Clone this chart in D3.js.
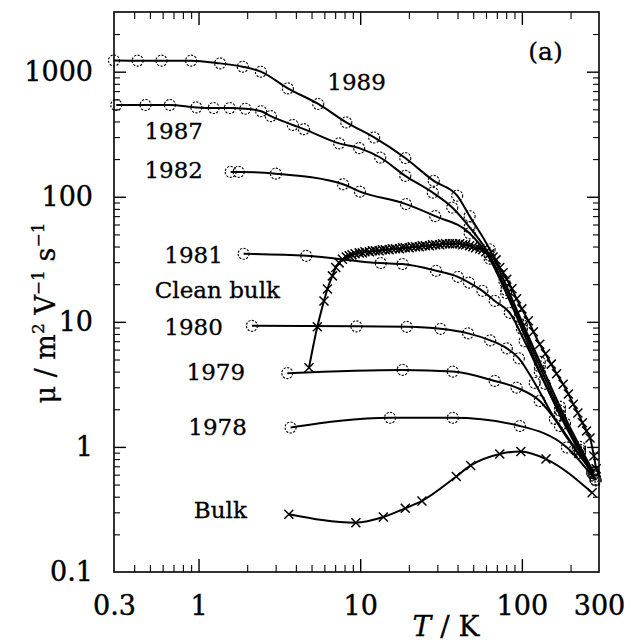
<!DOCTYPE html>
<html><head><meta charset="utf-8">
<script src="https://cdn.jsdelivr.net/npm/d3@7"></script>
<style>body{margin:0;background:#fff}svg{display:block}</style>
</head><body>
<script>
// ---------- data ----------
const xTickValues = [0.3, 1, 10, 100, 300];
const yTickValues = [0.1, 1, 10, 100, 1000];

const T1989  = [0.3, 0.42, 0.59, 0.9, 1.36, 1.88, 2.43, 3.57, 5.5, 8.2, 12.2, 19.0, 28.5, 39.8, 47.5, 63.2, 78, 97, 129, 172, 229, 280];
const mu1989 = [1230, 1225, 1225, 1225, 1165, 1096, 1000, 735, 552, 393, 298, 204, 134, 102, 70, 38, 21, 11, 4.8, 2.1, 1.0, 0.62];

const T1987  = [0.31, 0.47, 0.665, 0.97, 1.24, 1.56, 1.95, 2.44, 2.80, 3.83, 4.49, 7.41, 9.86, 13.3, 19.0, 28.1, 37.1, 47.5, 63.2, 80, 100, 129, 172, 229, 283];
const mu1987 = [542, 542, 542, 518, 512, 512, 506, 483, 441, 375, 347, 267, 245, 206, 147, 108, 82, 57, 34, 18, 9.5, 4.4, 1.95, 0.95, 0.58];

const T1982  = [1.58, 1.77, 3.01, 7.84, 9.96, 19.2, 29.1, 47.5, 63.2, 80, 100, 129, 172, 229, 285];
const mu1982 = [158, 158, 153, 126, 110, 87.4, 70, 51, 32, 17, 8.8, 4.0, 1.8, 0.9, 0.55];

const T1981  = [1.90, 4.64, 13.4, 18.3, 29.5, 40.2, 47.1, 57.0, 67.9, 84.2, 104, 139, 185, 229, 276];
const mu1981 = [35.0, 33.7, 29.5, 29.0, 25.6, 22.9, 20.6, 17.7, 14.7, 11.8, 7.0, 3.2, 1.55, 0.92, 0.6];

const TClean  = [4.82, 5.43, 5.97, 6.27, 6.73, 7.06, 7.41, 7.76, 8.2, 8.55, 8.9, 9.3, 9.86, 10.3, 10.7, 11.4, 11.9, 12.4, 13.1, 13.7, 14.3, 15.1, 15.8, 16.5, 17.5, 18.3, 19.0, 20.1, 21.0, 22.0, 23.2, 24.2, 25.3, 26.8, 28.0, 29.3, 31.0, 32.3, 33.8, 35.7, 37.3, 38.9, 41.2, 43.1, 44.9, 47.5, 49.7, 51.8, 54.8, 57.2, 59.8, 63.2, 66.3, 69.2, 73.0, 76.5, 80.6, 86.8, 92.7, 100, 109.6, 118, 129, 140, 152, 164, 180, 194, 208, 222, 237, 251, 264, 279, 288];
const muClean = [4.29, 9.12, 14.7, 18.3, 23.3, 27.2, 29.6, 31.7, 33.0, 33.7, 34.3, 35.0, 35.6, 35.6, 36.3, 36.3, 37.0, 37.0, 37.0, 37.7, 37.7, 37.7, 38.4, 38.4, 38.4, 39.1, 39.1, 39.1, 39.8, 39.8, 39.8, 40.6, 40.6, 40.6, 41.3, 41.3, 41.3, 42.1, 42.1, 42.1, 42.1, 42.1, 42.1, 41.3, 41.3, 40.6, 39.8, 39.1, 38.4, 37.7, 36.3, 35.0, 33.0, 31.3, 27.2, 24.7, 21.9, 18.4, 15.3, 12.7, 10.2, 8.32, 6.63, 5.55, 4.59, 3.84, 3.17, 2.65, 2.19, 1.87, 1.56, 1.34, 1.18, 0.847, 0.67];

const T1980  = [2.14, 9.48, 19.4, 31.4, 46.5, 63.7, 80.7, 95.8, 120, 160, 213, 272];
const mu1980 = [9.29, 9.2, 9.12, 8.79, 8.09, 7.11, 6.14, 5.11, 3.25, 1.67, 0.96, 0.64];

const T1979  = [3.54, 18.3, 37.4, 67.9, 92.7, 129, 172, 223, 272];
const mu1979 = [3.89, 4.13, 4.0, 3.37, 2.98, 2.33, 1.47, 0.895, 0.62];

const T1978  = [3.71, 15.3, 37.4, 97.2, 190, 286];
const mu1978 = [1.43, 1.71, 1.71, 1.47, 0.99, 0.54];

const TBulk  = [3.62, 9.4, 13.9, 19.0, 24.1, 39.3, 48.2, 73.0, 98.6, 141, 272];
const muBulk = [0.29, 0.248, 0.275, 0.323, 0.37, 0.58, 0.711, 0.879, 0.92, 0.80, 0.43];

const seriesNames   = ["1989", "1987", "1982", "1981", "Clean bulk", "1980", "1979", "1978", "Bulk"];
const seriesT       = [T1989, T1987, T1982, T1981, TClean, T1980, T1979, T1978, TBulk];
const seriesMu      = [mu1989, mu1987, mu1982, mu1981, muClean, mu1980, mu1979, mu1978, muBulk];
const seriesMarkers = ["circle", "circle", "circle", "circle", "cross", "circle", "circle", "circle", "cross"];

// label anchor points (T, mu) for the text annotations
const labelT  = [14.4, 1.065, 1.065, 1.415, 3.19, 1.415, 1.94, 1.99, 1.99];
const labelMu = [708, 288, 140, 29.4, 15.4, 7.8, 3.41, 1.24, 0.269];

// ---------- drawing ----------
const W = 634, H = 644;
const svg = d3.select("body").append("svg").attr("width", W).attr("height", H);
const L = 114, R = 599, TOP = 12, B = 572;

const x = d3.scaleLog().domain([0.3, 300]).range([L, R]);
const y = d3.scaleLog().domain([0.1, 3000]).range([B, TOP]);

const serif = "'DejaVu Serif', 'Liberation Serif', serif";

function minors(lo, hi) {
  const out = [];
  for (let e = -2; e <= 4; e++) for (let m = 2; m <= 9; m++) {
    const v = m * Math.pow(10, e);
    if (v > lo * 1.0001 && v < hi * 0.9999) out.push(v);
  }
  return out;
}
const xMajor = [1, 10, 100];
const xMinor = minors(0.3, 300).filter(v => !xMajor.includes(v) && v !== 300);
const yMajor = [1, 10, 100, 1000];
const yMinor = minors(0.1, 3000).filter(v => !yMajor.includes(v));

function styleAxis(g, sw) {
  g.select(".domain").remove();
  g.selectAll(".tick line").attr("stroke", "#000").attr("stroke-width", sw);
}
// bottom / top
svg.append("g").attr("transform", `translate(0,${B})`)
  .call(d3.axisBottom(x).tickValues(xMajor).tickSize(-13).tickFormat(""))
  .call(g => styleAxis(g, 1.4));
svg.append("g").attr("transform", `translate(0,${B})`)
  .call(d3.axisBottom(x).tickValues(xMinor).tickSize(-7).tickFormat(""))
  .call(g => styleAxis(g, 1.1));
svg.append("g").attr("transform", `translate(0,${TOP})`)
  .call(d3.axisTop(x).tickValues(xMajor).tickSize(-13).tickFormat(""))
  .call(g => styleAxis(g, 1.4));
svg.append("g").attr("transform", `translate(0,${TOP})`)
  .call(d3.axisTop(x).tickValues(xMinor).tickSize(-7).tickFormat(""))
  .call(g => styleAxis(g, 1.1));
// left / right
svg.append("g").attr("transform", `translate(${L},0)`)
  .call(d3.axisLeft(y).tickValues(yMajor).tickSize(-12).tickFormat(""))
  .call(g => styleAxis(g, 1.4));
svg.append("g").attr("transform", `translate(${L},0)`)
  .call(d3.axisLeft(y).tickValues(yMinor).tickSize(-6).tickFormat(""))
  .call(g => styleAxis(g, 1.1));
svg.append("g").attr("transform", `translate(${R},0)`)
  .call(d3.axisRight(y).tickValues(yMajor).tickSize(-12).tickFormat(""))
  .call(g => styleAxis(g, 1.4));
svg.append("g").attr("transform", `translate(${R},0)`)
  .call(d3.axisRight(y).tickValues(yMinor).tickSize(-6).tickFormat(""))
  .call(g => styleAxis(g, 1.1));

// tick labels through axes (tick lines hidden)
function styleLabels(g) {
  g.select(".domain").remove();
  g.selectAll("text").attr("font-family", serif).attr("font-size", 27).attr("fill", "#000")
    .attr("stroke", "#000").attr("stroke-width", 0.4);
}
svg.append("g").attr("transform", `translate(0,${B})`)
  .call(d3.axisBottom(x).tickValues(xTickValues).tickSize(0).tickPadding(24).tickFormat(d => String(d)))
  .call(styleLabels);
svg.append("g").attr("transform", `translate(${L},0)`)
  .call(d3.axisLeft(y).tickValues(yTickValues).tickSize(0).tickPadding(21).tickFormat(d => String(d)))
  .call(styleLabels);

// frame
svg.append("rect").attr("x", L).attr("y", TOP).attr("width", R - L).attr("height", B - TOP)
  .attr("fill", "none").attr("stroke", "#000").attr("stroke-width", 1.6);

// curves
const line = d3.line().x(d => x(d[0])).y(d => y(d[1])).curve(d3.curveMonotoneX);
const plot = svg.append("g");
seriesNames.forEach((name, i) => {
  const pts = seriesT[i].map((t, j) => [t, seriesMu[i][j]]);
  plot.append("path").datum(pts).attr("d", line)
    .attr("fill", "none").attr("stroke", "#000").attr("stroke-width", 2);
  if (seriesMarkers[i] === "circle") {
    plot.selectAll(null).data(pts).enter().append("circle")
      .attr("cx", d => x(d[0])).attr("cy", d => y(d[1])).attr("r", 5.5)
      .attr("fill", "none").attr("stroke", "#000").attr("stroke-width", 1.1)
      .attr("stroke-dasharray", "2.2,1.4");
  } else {
    const s = 4.5;
    plot.selectAll(null).data(pts).enter().append("path")
      .attr("transform", d => `translate(${x(d[0])},${y(d[1])})`)
      .attr("d", `M${-s},${-s}L${s},${s}M${-s},${s}L${s},${-s}`)
      .attr("stroke", "#000").attr("stroke-width", 1.5).attr("fill", "none");
  }
  plot.append("text").attr("x", x(labelT[i])).attr("y", y(labelMu[i]))
    .attr("text-anchor", "end")
    .attr("font-family", serif).attr("font-size", 23).attr("fill", "#000")
    .attr("stroke", "#000").attr("stroke-width", 0.3).text(name);
});

// panel tag
svg.append("text").attr("x", x(179)).attr("y", y(1231)).attr("text-anchor", "end")
  .attr("font-family", serif).attr("font-size", 25)
  .attr("stroke", "#000").attr("stroke-width", 0.3).text("(a)");

// axis titles
const xt = svg.append("text").attr("x", 446).attr("y", 636).attr("text-anchor", "middle")
  .attr("font-family", serif).attr("font-size", 28).attr("stroke", "#000").attr("stroke-width", 0.3);
xt.append("tspan").attr("font-style", "italic").text("T");
xt.append("tspan").text(" / K");

const yt = svg.append("text").attr("transform", "translate(55,313) rotate(-90)")
  .attr("text-anchor", "middle").attr("font-family", serif).attr("font-size", 27)
  .attr("stroke", "#000").attr("stroke-width", 0.3);
yt.append("tspan").text("\u03bc / m");
yt.append("tspan").attr("font-size", 17).attr("dy", -11).text("2");
yt.append("tspan").attr("dy", 11).text(" V");
yt.append("tspan").attr("font-size", 17).attr("dy", -11).text("\u22121");
yt.append("tspan").attr("dy", 11).text(" s");
yt.append("tspan").attr("font-size", 17).attr("dy", -11).text("\u22121");
</script>
</body></html>
